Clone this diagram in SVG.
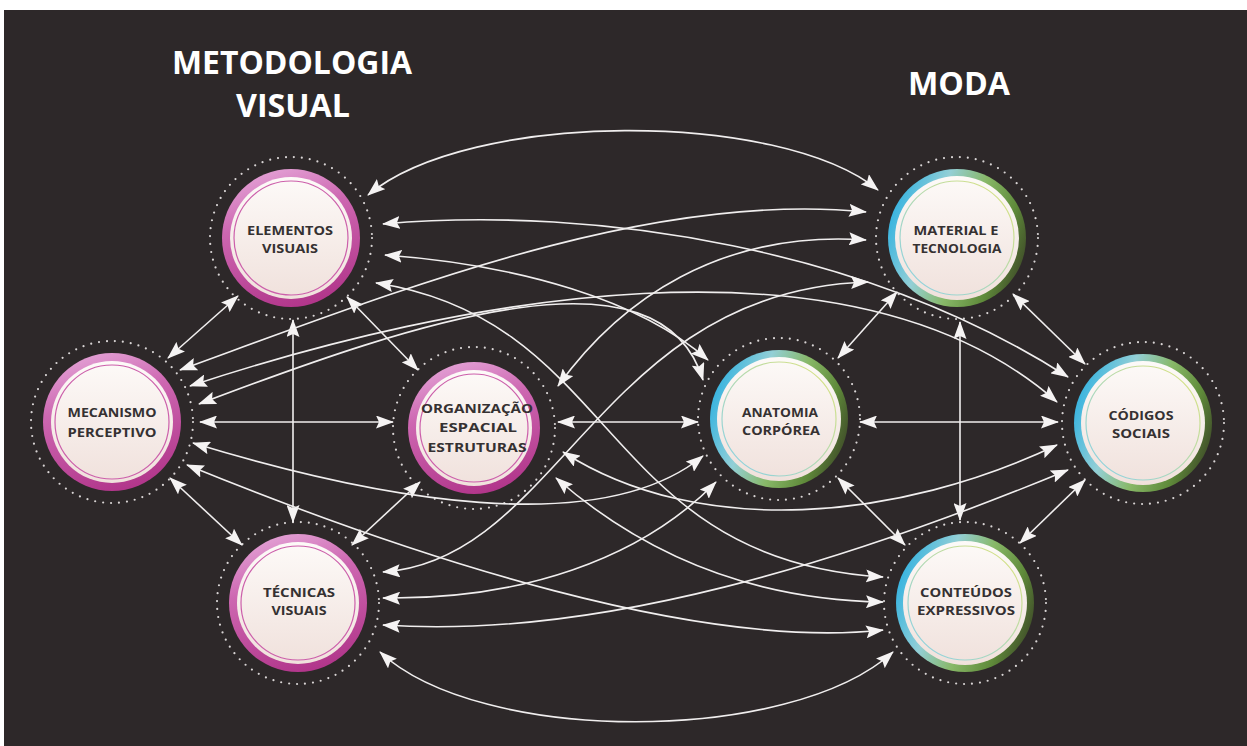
<svg xmlns="http://www.w3.org/2000/svg" width="1247" height="746" viewBox="0 0 1247 746">
<defs>
<linearGradient id="gMag" x1="0.3" y1="0" x2="0.6" y2="1">
<stop offset="0" stop-color="#e3a1d5"/>
<stop offset="0.35" stop-color="#cd67b1"/>
<stop offset="1" stop-color="#b1358a"/>
</linearGradient>
<linearGradient id="gTeal" x1="0" y1="0.35" x2="1" y2="0.7">
<stop offset="0" stop-color="#36b3e0"/>
<stop offset="0.3" stop-color="#93cfd6"/>
<stop offset="0.55" stop-color="#88b868"/>
<stop offset="0.8" stop-color="#5f8a3a"/>
<stop offset="1" stop-color="#3e4a28"/>
</linearGradient>
<linearGradient id="gCream" x1="0" y1="0" x2="0" y2="1">
<stop offset="0" stop-color="#fdfaf8"/>
<stop offset="1" stop-color="#f0e1dc"/>
</linearGradient>
<linearGradient id="gThin" x1="1" y1="0" x2="0" y2="1">
<stop offset="0" stop-color="#dfe37a"/>
<stop offset="1" stop-color="#86d0ea"/>
</linearGradient>
<marker id="ah" viewBox="0 0 18 13" refX="17" refY="6.5" markerWidth="18" markerHeight="13" markerUnits="userSpaceOnUse" orient="auto-start-reverse">
<path d="M0,0 L18,6.5 L0,13 L3,6.5 z" fill="#f5f3f3"/>
</marker>
<style>
.title{font-family:"Open Sans","Liberation Sans",sans-serif;font-weight:700;fill:#ffffff;text-anchor:middle}
.lbl{font-family:"Open Sans","Liberation Sans",sans-serif;font-weight:700;font-size:12.5px;fill:#353132;text-anchor:middle}
.dots{fill:none;stroke:#d9d5d5;stroke-width:2.2;stroke-dasharray:0 8;stroke-linecap:round}
.ringL{fill:url(#gMag)}
.ringR{fill:url(#gTeal)}
.core{fill:url(#gCream)}
.thinL{fill:none;stroke:#cc5fab;stroke-width:1.2}
.thinR{fill:none;stroke:url(#gThin);stroke-width:1.2}
.conn path{fill:none;stroke:#f0eeee;stroke-width:1.6;marker-start:url(#ah);marker-end:url(#ah)}
</style>
</defs>
<rect x="0" y="0" width="1247" height="746" fill="#ffffff"/>
<rect x="4" y="10" width="1243" height="736" fill="#2d2829"/>

<g id="titles">
<text class="title" x="292" y="74" font-size="33" textLength="240" lengthAdjust="spacingAndGlyphs">METODOLOGIA</text>
<text class="title" x="293" y="117" font-size="33" textLength="114" lengthAdjust="spacingAndGlyphs">VISUAL</text>
<text class="title" x="959" y="95" font-size="33" textLength="102" lengthAdjust="spacingAndGlyphs">MODA</text>
</g>

<g id="node-elementos">
<circle class="dots" cx="291" cy="238" r="81"/>
<circle class="ringL" cx="291" cy="238" r="69"/>
<circle class="core" cx="291" cy="238" r="61"/>
<circle class="thinL" cx="291" cy="238" r="57"/>
<text class="lbl" x="290" y="235" textLength="86" lengthAdjust="spacingAndGlyphs">ELEMENTOS</text>
<text class="lbl" x="290" y="253" textLength="56" lengthAdjust="spacingAndGlyphs">VISUAIS</text>
</g>

<g id="node-mecanismo">
<circle class="dots" cx="112" cy="422" r="81"/>
<circle class="ringL" cx="112" cy="422" r="69"/>
<circle class="core" cx="112" cy="422" r="61"/>
<circle class="thinL" cx="112" cy="422" r="57"/>
<text class="lbl" x="112" y="417" textLength="89" lengthAdjust="spacingAndGlyphs">MECANISMO</text>
<text class="lbl" x="112" y="437" textLength="89" lengthAdjust="spacingAndGlyphs">PERCEPTIVO</text>
</g>

<g id="node-organizacao">
<circle class="dots" cx="474" cy="428" r="81"/>
<circle class="ringL" cx="474" cy="428" r="66"/>
<circle class="core" cx="474" cy="428" r="58"/>
<circle class="thinL" cx="474" cy="428" r="54"/>
<text class="lbl" x="477" y="413" textLength="112" lengthAdjust="spacingAndGlyphs">ORGANIZAÇÃO</text>
<text class="lbl" x="478" y="432" textLength="78" lengthAdjust="spacingAndGlyphs">ESPACIAL</text>
<text class="lbl" x="477" y="452" textLength="99" lengthAdjust="spacingAndGlyphs">ESTRUTURAS</text>
</g>

<g id="node-tecnicas">
<circle class="dots" cx="298" cy="603" r="81"/>
<circle class="ringL" cx="298" cy="603" r="69"/>
<circle class="core" cx="298" cy="603" r="61"/>
<circle class="thinL" cx="298" cy="603" r="57"/>
<text class="lbl" x="299" y="597" textLength="72" lengthAdjust="spacingAndGlyphs">TÉCNICAS</text>
<text class="lbl" x="299" y="615" textLength="55" lengthAdjust="spacingAndGlyphs">VISUAIS</text>
</g>

<g id="node-material">
<circle class="dots" cx="957" cy="238" r="81"/>
<circle class="ringR" cx="957" cy="238" r="69"/>
<circle class="core" cx="957" cy="238" r="62"/>
<circle class="thinR" cx="957" cy="238" r="57"/>
<text class="lbl" x="956" y="235" textLength="85" lengthAdjust="spacingAndGlyphs">MATERIAL E</text>
<text class="lbl" x="957" y="253" textLength="89" lengthAdjust="spacingAndGlyphs">TECNOLOGIA</text>
</g>

<g id="node-anatomia">
<circle class="dots" cx="779" cy="419" r="81"/>
<circle class="ringR" cx="779" cy="419" r="69"/>
<circle class="core" cx="779" cy="419" r="62"/>
<circle class="thinR" cx="779" cy="419" r="57"/>
<text class="lbl" x="780" y="417" textLength="76" lengthAdjust="spacingAndGlyphs">ANATOMIA</text>
<text class="lbl" x="781" y="435" textLength="78" lengthAdjust="spacingAndGlyphs">CORPÓREA</text>
</g>

<g id="node-codigos">
<circle class="dots" cx="1143" cy="423" r="81"/>
<circle class="ringR" cx="1143" cy="423" r="69"/>
<circle class="core" cx="1143" cy="423" r="62"/>
<circle class="thinR" cx="1143" cy="423" r="57"/>
<text class="lbl" x="1141" y="420" textLength="65" lengthAdjust="spacingAndGlyphs">CÓDIGOS</text>
<text class="lbl" x="1141" y="438" textLength="58" lengthAdjust="spacingAndGlyphs">SOCIAIS</text>
</g>

<g id="node-conteudos">
<circle class="dots" cx="965" cy="603" r="81"/>
<circle class="ringR" cx="965" cy="603" r="69"/>
<circle class="core" cx="965" cy="603" r="62"/>
<circle class="thinR" cx="965" cy="603" r="57"/>
<text class="lbl" x="966" y="597" textLength="92" lengthAdjust="spacingAndGlyphs">CONTEÚDOS</text>
<text class="lbl" x="966" y="615" textLength="98" lengthAdjust="spacingAndGlyphs">EXPRESSIVOS</text>
</g>

<g id="connectors" class="conn">
<path d="M238,296 L168,358"/>
<path d="M293,320 L293,522"/>
<path d="M347,297 L418,370"/>
<path d="M200,422 L393,422"/>
<path d="M170,478 L242,545"/>
<path d="M352,545 L420,482"/>
<path d="M558,422 L698,422"/>
<path d="M897,292 L838,358"/>
<path d="M960,322 L960,520"/>
<path d="M1013,294 L1085,364"/>
<path d="M860,422 L1058,422"/>
<path d="M838,478 L905,545"/>
<path d="M1085,480 L1020,543"/>
<path d="M368,195 C470,110 780,110 878,190"/>
<path d="M380,652 C480,745 790,745 893,652"/>
<path d="M383,224 C600,205 870,250 1068,377"/>
<path d="M385,255 C520,265 640,300 708,360"/>
<path d="M376,283 C620,320 600,560 883,577"/>
<path d="M180,370 C400,290 650,190 866,212"/>
<path d="M190,386 C450,300 850,220 1057,402"/>
<path d="M199,404 C420,320 660,240 703,380"/>
<path d="M558,386 C620,300 720,230 866,240"/>
<path d="M383,572 C560,560 600,290 868,282"/>
<path d="M193,443 C380,500 600,540 703,456"/>
<path d="M383,598 C520,600 640,560 716,482"/>
<path d="M563,452 C700,540 900,520 1057,445"/>
<path d="M556,478 C650,560 760,600 883,602"/>
<path d="M383,625 C600,640 850,560 1068,470"/>
<path d="M187,465 C420,560 700,650 883,630"/>
</g>
</svg>
